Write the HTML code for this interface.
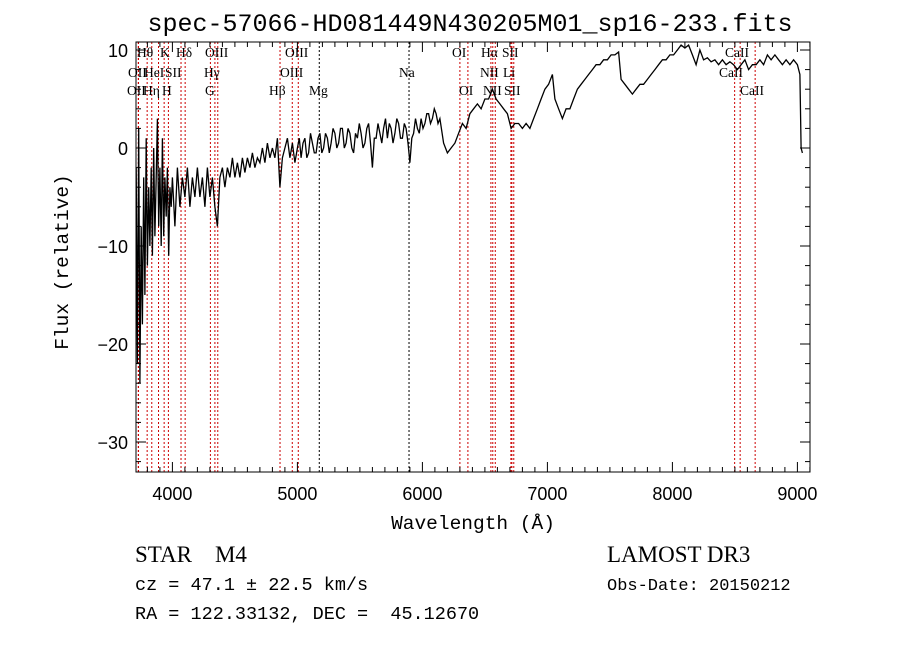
<!DOCTYPE html>
<html><head><meta charset="utf-8"><style>
body{margin:0;background:#fff}
svg{display:block}
text{fill:#000}
</style></head><body>
<svg id="chart" width="900" height="649" viewBox="0 0 900 649" xmlns="http://www.w3.org/2000/svg">
<text x="470" y="31" text-anchor="middle" font-family="Liberation Mono, monospace" font-size="25">spec-57066-HD081449N430205M01_sp16-233.fits</text>
<g id="lines"></g>
<g id="labels" font-family="Liberation Serif, serif" font-size="13.5"></g>
<path id="spec" fill="none" stroke="#000" stroke-width="1.3"/>
<rect x="136" y="42" width="674" height="430" fill="none" stroke="#000" stroke-width="1"/>
<g id="ticks" stroke="#000" stroke-width="1"></g>
<g id="ticklabels" font-family="Liberation Sans, sans-serif" font-size="18"></g>
<text x="473" y="529" text-anchor="middle" font-family="Liberation Mono, monospace" font-size="19.5">Wavelength (Å)</text>
<text transform="translate(68,262) rotate(-90)" text-anchor="middle" font-family="Liberation Mono, monospace" font-size="19.5">Flux (relative)</text>
<text x="135" y="562" font-family="Liberation Serif, serif" font-size="23" xml:space="preserve">STAR    M4</text>
<text x="607" y="562" font-family="Liberation Serif, serif" font-size="23">LAMOST DR3</text>
<text x="135" y="590" font-family="Liberation Mono, monospace" font-size="18.5">cz = 47.1 ± 22.5 km/s</text>
<text x="607" y="590" font-family="Liberation Mono, monospace" font-size="17">Obs-Date: 20150212</text>
<text x="135" y="619" font-family="Liberation Mono, monospace" font-size="18.5" xml:space="preserve">RA = 122.33132, DEC =  45.12670</text>
</svg>
<script>
const wavelengths=[3710,3720,3730,3740,3750,3760,3770,3780,3790,3800,3810,3820,3830,3840,3850,3860,3870,3880,3890,3900,3910,3920,3930,3940,3950,3960,3970,3980,3990,
4000,4020,4040,4060,4080,4100,4120,4140,4160,4180,4200,4220,4240,4260,4280,4300,4320,4340,4360,4380,4400,4420,4440,4460,4480,4500,4520,4540,4560,4580,4600,4620,4640,4660,4680,4700,4720,4740,4760,4780,4800,4820,4840,4860,4880,4900,4920,4940,4960,4980,
5000,5015,5030,5045,5060,5075,5090,5105,5120,5135,5150,5165,5180,5195,5210,5225,5240,5255,5270,5285,5300,5315,5330,5345,5360,5375,5390,5405,5420,5435,5450,5465,5480,5495,5510,5525,5540,5555,5570,5585,5600,5615,5630,5645,5660,5675,5690,5705,5720,5735,5750,5765,5780,5795,5810,5825,5840,5855,5870,5885,5900,5915,5930,5945,5960,5975,5990,6005,6020,6035,6050,6065,6080,6095,6110,6125,6140,6170,6200,6230,6260,6290,6320,6350,6380,6410,6440,6470,6500,6530,6560,6590,6620,6650,6680,6710,6740,6770,6800,6830,6860,6890,6920,6950,6980,7010,7040,7060,7090,7120,7150,7180,7210,7240,7270,7300,7330,7360,7390,7420,7450,7480,7510,7540,7570,7590,7620,7650,7680,7710,7740,7770,7800,7830,7860,7890,7920,7950,7980,8010,8040,8070,8100,8130,8160,8190,8220,8250,8280,8310,8340,8370,8400,8430,8460,8490,8520,8550,8580,8610,8640,8670,8700,8730,8760,8790,8820,8850,8880,8910,8940,8970,9000,9020,9030,9040];
const flux=[-2,-22,2,-24,-8,-18,-3,-15,1,-12,-4,-10,-2,-11,0,-9,-3,3,-8,-2,-10,1,-9,-3,-7,-2,-11,-4,-6,
-3,-8,-2,-6,-3,-5,-2,-6,-3,-5,-2,-5,-3,-6,-2,-5,-3,-6,-8,-3,-2,-4,-2,-3,-1,-3,-1.5,-3,-1,-2.5,-1,-2,-0.5,-2,-1,-1.5,0,-1.5,0.5,-1,0,-1,1,-4,-1,0,1,-1,0.5,-1.5,
0,1,-1,0.5,1,-1,-0.5,1.5,0.5,-0.5,-0.5,1,1.5,-0.5,0,1.5,1,-0.5,0.5,2,1.5,0,0.5,2,2,0,0.5,2,1.5,0,-0.5,1.5,1,2.5,1.5,0,0.5,2,2.5,0.5,-2,1,1,2.5,1.5,0.5,2,3,1,2.5,2,0.5,1.5,3,2.5,1,1,2.5,2,0.5,-1.5,1,1.5,3,2,1.5,3,2,2.5,3.5,3.5,2.5,3,4,3.5,2.5,3,0.5,-0.5,0,0.5,1.5,2.5,2,3.5,4,4.5,4,5,5,6,5,4.5,4,3.5,2,2.5,2.5,2,2.5,2,3,4,5,6,6.5,7.5,5,4,3,4,4,5,6,6.5,7,7.5,8,8.5,8.5,9,9,9.5,9.5,9.8,7,6.5,6,5.5,6,6.5,6.5,7,7.5,8,8.5,9,9,9.5,9.5,10,10.5,10.2,10.5,9.5,8.5,10,9,9.2,8.8,9,8.5,9,8.5,8.8,8.5,8,8.5,9,8,8.5,8.5,9,8.5,9.5,9,9.5,9,8.5,9,8.5,9,8.5,7.5,0,-0.5];
const lineWaves=[3727,3729,3798,3835,3889,3934,3968,4069,4102,4304,4340,4363,4861,4959,5007,5175,5893,6300,6364,6548,6563,6583,6708,6716,6731,8498,8542,8662];
const lineBlack=[5175,5893];
const xTicks=[4000,5000,6000,7000,8000,9000];
const yTicks=[10,0,-10,-20,-30];
const labelRows=[
 [["Hθ",137,57],["K",160,57],["Hδ",176,57],["OIII",205,57],["OIII",285,57],["OI",452,57],["Hα",481,57],["SII",502,57],["CaII",725,57]],
 [["OII",128,77],["HeI",144,77],["SII",165,77],["Hγ",204,77],["OIII",280,77],["Na",399,77],["NII",480,77],["Li",503,77],["CaII",719,77]],
 [["OII",127,95],["Hη",143,95],["H",162,95],["G",205,95],["Hβ",269,95],["Mg",309,95],["OI",459,95],["NII",483,95],["SII",504,95],["CaII",740,95]]
];
const NS='http://www.w3.org/2000/svg';
const X=l=>172.4+(l-4000)*0.125;
const Y=f=>148-9.8*f;
function mk(tag,attrs,parent){const e=document.createElementNS(NS,tag);for(const k in attrs)e.setAttribute(k,attrs[k]);parent.appendChild(e);return e;}
let d='';
for(let i=0;i<wavelengths.length;i++){d+=(i?'L':'M')+X(wavelengths[i]).toFixed(1)+' '+Math.min(472,Y(flux[i])).toFixed(1);}
document.getElementById('spec').setAttribute('d',d);
const lg=document.getElementById('lines');
lineWaves.forEach(w=>{const l=mk('line',{x1:X(w),x2:X(w),y1:42,y2:472,stroke:lineBlack.includes(w)?'#000':'#c00','stroke-width':1,'stroke-dasharray':'2,2'},lg);

});
const lb=document.getElementById('labels');
labelRows.forEach(r=>r.forEach(([t,x,y])=>{const e=mk('text',{x:x,y:y},lb);e.textContent=t;

}));
const tg=document.getElementById('ticks');const tl=document.getElementById('ticklabels');
for(let l=3800;l<=9100;l+=100){const x=X(l);const big=l%1000===0;const len=big?10:5;
mk('line',{x1:x,x2:x,y1:472,y2:472-len},tg);mk('line',{x1:x,x2:x,y1:42,y2:42+len},tg);}
xTicks.forEach(v=>{const e=mk('text',{x:X(v),y:500,'text-anchor':'middle'},tl);e.textContent=v;

});
for(let f=-32;f<=10;f+=2){const y=Y(f);const big=f%10===0;const len=big?10:5;
mk('line',{x1:136,x2:136+len,y1:y,y2:y},tg);mk('line',{x1:810,x2:810-len,y1:y,y2:y},tg);}
yTicks.forEach(v=>{const e=mk('text',{x:128,y:Y(v)+7,'text-anchor':'end'},tl);e.textContent=v<0?'−'+(-v):v;

});
</script>
</body></html>
